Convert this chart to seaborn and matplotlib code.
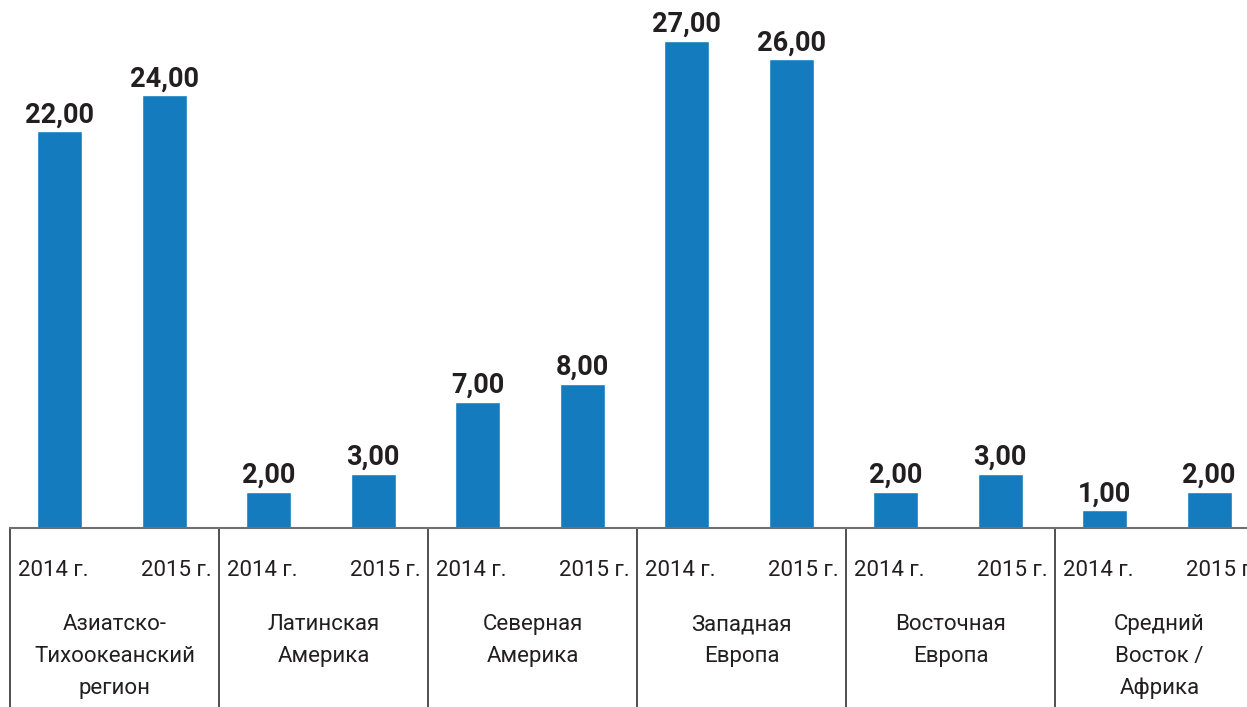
import numpy as np
import pandas as pd
import seaborn as sns
import matplotlib.pyplot as plt

regions = ["Азиатско-\nТихоокеанский\nрегион", "Латинская\nАмерика", "Северная\nАмерика",
           "Западная\nЕвропа", "Восточная\nЕвропа", "Средний\nВосток /\nАфрика"]
years = ["2014 г.", "2015 г."]
v2014 = [22, 2, 7, 27, 2, 1]
v2015 = [24, 3, 8, 26, 3, 2]

rows = []
for r, a, b in zip(regions, v2014, v2015):
    rows.append({"slot": r + "|" + years[0], "region": r, "year": years[0], "value": a})
    rows.append({"slot": r + "|" + years[1], "region": r, "year": years[1], "value": b})
df = pd.DataFrame(rows)

sns.set_style("white")
plt.rcParams['font.family'] = ['Roboto', 'DejaVu Sans']

W, H = 1247, 707
fig = plt.figure(figsize=(W / 100, H / 100), dpi=100)
base_px = 528
ax = fig.add_axes([10 / W, (H - base_px) / H, 1254 / W, base_px / H])

sns.barplot(data=df, x="slot", y="value", order=list(df["slot"]), color="#147bbe",
            saturation=1, width=0.43, ax=ax)

# bars sit a touch left of their slot centres in the reference
shift = 0.026
ax.set_xlim(-0.5 + shift, 11.5 + shift)
ax.set_ylim(0, base_px / 18.04)
ax.set_xticks([])
ax.set_yticks([])
ax.set_xlabel("")
ax.set_ylabel("")
for s in ["top", "right", "left"]:
    ax.spines[s].set_visible(False)
ax.spines["bottom"].set_color("#707070")
ax.spines["bottom"].set_linewidth(1.5)

text_col = "#231f20"
ax.bar_label(ax.containers[0], labels=[f"{v:.2f}".replace(".", ",") for v in df["value"]],
             padding=2, fontsize=19.5, fontweight="bold", color=text_col)

tr = ax.get_xaxis_transform()
def ypos(px):
    return -(px - base_px) / base_px

for g, r in enumerate(regions):
    left = -0.5 + shift + 2 * g
    ax.plot([left, left], [0, ypos(H + 5)], transform=tr, clip_on=False,
            color=text_col, lw=1.1)
    ax.text(left + 0.075, ypos(576), years[0], transform=tr, ha="left", va="baseline",
            fontsize=16, color=text_col)
    ax.text(left + 2 - 0.07, ypos(576), years[1], transform=tr, ha="right", va="baseline",
            fontsize=16, color=text_col)
    for i, line in enumerate(r.split("\n")):
        ax.text(left + 1, ypos(630 + 32 * i), line, transform=tr, ha="center",
                va="baseline", fontsize=16, color=text_col)

fig.savefig("out.png", dpi=100)
